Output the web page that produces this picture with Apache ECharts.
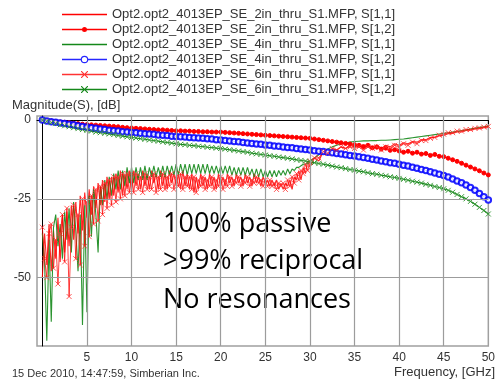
<!DOCTYPE html>
<html>
<head>
<meta charset="utf-8">
<script src="https://cdn.jsdelivr.net/npm/echarts@6/dist/echarts.min.js"></script>
<style>
html,body{margin:0;padding:0;background:#fff;}
#c{width:498px;height:386px;}
</style>
</head>
<body>
<div id="c"></div>
<script>
// Frequency grids (GHz)
// S[1,2] curves: 0.5 GHz step, 0..50
const freqS12 = Array.from({length: 101}, (_, i) => i * 0.5);
// S[1,1] curves: 0.25 GHz step up to 30 GHz, then 0.5 GHz step to 50
const freqS11 = Array.from({length: 121}, (_, i) => i * 0.25)
  .concat(Array.from({length: 40}, (_, i) => 30.5 + i * 0.5));

const seriesNames = [
  'Opt2.opt2_4013EP_SE_2in_thru_S1.MFP, S[1,1]',
  'Opt2.opt2_4013EP_SE_2in_thru_S1.MFP, S[1,2]',
  'Opt2.opt2_4013EP_SE_4in_thru_S1.MFP, S[1,1]',
  'Opt2.opt2_4013EP_SE_4in_thru_S1.MFP, S[1,2]',
  'Opt2.opt2_4013EP_SE_6in_thru_S1.MFP, S[1,1]',
  'Opt2.opt2_4013EP_SE_6in_thru_S1.MFP, S[1,2]'
];

const s11_2in = [
-50,-36,-46,-33,-48,-35,-44,-31,-45,-30,-42,-29,-40,-27,-38,-26,-36,-24,-35,-23,
-31,-22,-30,-21,-28,-20,-27,-19,-26,-18,-25,-18,-24,-17,-23,-16,-24,-17,-22,-16,-23,
-16,-21,-17,-22,-16,-21,-17,-22,-16,-20,-17,-22,-16,-21,-17,-22,-16,-20,-17,-21,
-17,-22,-16,-21,-17,-22,-17,-23,-18,-22,-17,-21,-18,-22,-17,-21,-18,-22,-17,-21,
-18,-21,-17,-20,-18,-21,-17,-20,-18,-21,-17,-20,-18,-21,-17,-20,-18,-21,-18,-20,
-19,-21,-19,-21,-19,-22,-20,-22,-20,-21,-19,-22,-18,-19,-16,-19,-15,-17,-13,-15,
-12,-13,-10,-11,-9,-9.5,-8.5,-9,-8,
-8.5,-8,-9,-8,-8.5,-7.8,-9,-8,-8.5,-7.5,
-8,-7.2,-7.5,-6.8,-7,-6.2,-6.2,-5.5,-5.5,-5,
-4.8,-4.3,-4.2,-3.8,-3.8,-3.3,-3.2,-2.8,-2.7,-2.4,
-2.2];

const s12_2in = [0,-0.2,-0.3,-0.5,-0.6,-0.7,-0.8,-1.0,-1.1,-1.3,
-1.4,-1.5,-1.6,-1.7,-1.8,-1.9,-2.0,-2.1,-2.3,-2.4,
-2.5,-2.6,-2.7,-2.8,-2.9,-3.0,-3.1,-3.1,-3.2,-3.3,
-3.4,-3.4,-3.5,-3.5,-3.6,-3.6,-3.7,-3.7,-3.8,-3.8,
-3.8,-3.9,-4.0,-4.1,-4.2,-4.3,-4.4,-4.5,-4.6,-4.7,
-4.8,-4.9,-5.0,-5.1,-5.2,-5.3,-5.4,-5.5,-5.6,-5.7,
-5.8,-6.0,-6.2,-6.4,-6.6,-6.8,-7.0,-7.2,-7.4,-7.6,
-7.8,-8.0,-8.4,-8.0,-8.8,-8.6,-9.2,-8.9,-9.6,-9.4,
-9.8,-10.2,-9.9,-10.5,-10.2,-10.8,-10.6,-11.2,-10.9,-11.5,
-11.6,-12.1,-12.6,-13.1,-13.7,-14.3,-14.9,-15.5,-16.1,-16.8,
-17.4];

const s11_4in = [
-36,-45,-70,-38,-64,-34,-30,-40,-33,-44,-29,-38,-28,-42,-26,-35,-48,-30,-65,-27,
-61,-24,-37,-22,-30,-42,-21,-27,-19,-25,-18,-24,-17,-22,-16,-22,-16,-21,-15,-20,-15,
-20,-15,-19,-15,-19,-14.5,-19,-15,-18,-14.5,-18,-15,-18,-14.5,-18,-14.5,-17.5,-14.5,-17.5,-14,
-17.5,-14,-17,-14,-17.5,-14,-17,-14,-17,-14,-17,-14,-17,-14,-17,-14.5,-17,-14.5,-17,-14.5,
-17,-14.5,-17,-14.5,-17.5,-15,-17.5,-15,-17.5,-15,-17.5,-15,-17.5,-15.5,-18,-15.5,-18,-15.5,-18,-16,
-18,-16,-18,-16,-18,-16,-17.5,-16,-17.5,-15.5,-17,-15.5,-16,-15,-15,-14.5,-14,-14,-13.5,-13,
-12,-11,-10,-9.2,-8.5,-8,-7.5,-7.2,-7,
-6.8,-6.7,-6.6,-6.6,-6.5,-6.5,-6.4,-6.4,-6.3,-6.2,
-6.1,-6,-5.8,-5.6,-5.4,-5.2,-5,-4.8,-4.6,-4.4,
-4.2,-4,-3.8,-3.6,-3.3,-3.1,-2.8,-2.6,-2.3,-2.1,
-1.8];

const s12_4in = [0,-0.3,-0.5,-0.7,-0.9,-1.1,-1.3,-1.5,-1.8,-2.0,
-2.2,-2.4,-2.6,-2.8,-3.0,-3.2,-3.4,-3.5,-3.7,-3.8,
-3.9,-4.0,-4.2,-4.3,-4.4,-4.5,-4.7,-4.8,-4.9,-5.1,
-5.2,-5.3,-5.4,-5.5,-5.6,-5.7,-5.8,-5.9,-6.0,-6.2,
-6.3,-6.5,-6.6,-6.8,-6.9,-7.1,-7.3,-7.4,-7.6,-7.7,
-7.9,-8.0,-8.2,-8.3,-8.5,-8.7,-8.8,-9.0,-9.2,-9.3,
-9.5,-9.7,-9.9,-10.0,-10.2,-10.4,-10.6,-10.8,-11.0,-11.2,
-11.4,-11.6,-11.9,-12.1,-12.4,-12.7,-13.0,-13.2,-13.5,-13.7,
-14.0,-14.3,-14.6,-15.0,-15.3,-15.7,-16.0,-16.4,-16.8,-17.2,
-17.6,-18.1,-18.7,-19.3,-19.9,-20.6,-21.4,-22.3,-23.3,-24.3,
-25.4];

const s11_6in = [
-34,-44,-50,-36,-33,-47,-38,-52,-36,-30,-45,-28,-56,-34,-27,-44,-30,-46,-25,-40,
-26,-37,-24,-33,-22,-32,-21,-30,-20,-28,-19,-27,-18,-26,-18,-25,-17,-24,-17,-23,-17,
-23,-17,-22,-18,-23,-17,-22,-18,-22,-17,-23,-18,-22,-17,-22,-18,-21,-17,-22,-18,
-21,-17,-22,-18,-21,-18,-22,-18,-23,-19,-21,-18,-22,-19,-21,-18,-22,-19,-21,-18,
-22,-19,-21,-18,-21,-19,-20,-18,-21,-19,-20,-18,-21,-19,-20,-18,-20,-19,-21,-19,
-21,-19,-21,-20,-22,-20,-21,-20,-22,-19,-21,-18,-20,-17,-19,-16,-17,-14,-16,-13,
-12,-12,-10,-10.5,-9,-9.5,-8.5,-9,-8.5,
-9,-8.5,-9.5,-8.5,-9,-8.5,-9.5,-8.5,-9,-8,
-8.5,-7.5,-8,-7,-7.5,-6.5,-6.5,-5.8,-5.5,-4.8,
-4.5,-4,-4,-3.5,-3.5,-3,-3,-2.6,-2.5,-2.2,
-2];

const s12_6in = [0,-0.4,-0.8,-1.1,-1.5,-1.8,-2.1,-2.4,-2.7,-3.0,
-3.3,-3.5,-3.8,-4.0,-4.2,-4.4,-4.6,-4.9,-5.1,-5.3,
-5.5,-5.7,-5.9,-6.1,-6.3,-6.5,-6.7,-6.9,-7.1,-7.3,
-7.5,-7.7,-7.8,-8.0,-8.1,-8.3,-8.4,-8.6,-8.7,-8.9,
-9.0,-9.2,-9.4,-9.6,-9.8,-10.0,-10.2,-10.5,-10.7,-10.9,
-11.1,-11.3,-11.5,-11.7,-11.9,-12.1,-12.3,-12.6,-12.8,-13.0,
-13.2,-13.5,-13.8,-14.0,-14.3,-14.6,-14.9,-15.1,-15.4,-15.7,
-15.9,-16.2,-16.4,-16.7,-17.0,-17.2,-17.5,-17.7,-18.0,-18.2,
-18.5,-18.8,-19.1,-19.4,-19.7,-20.0,-20.4,-20.7,-21.1,-21.4,
-21.8,-22.3,-22.9,-23.6,-24.3,-25.0,-25.8,-26.7,-27.7,-28.7,
-29.8];

const xTicks = [5, 10, 15, 20, 25, 30, 35, 40, 45, 50];
const yTicks = [0, -25, -50];

const annotationLines = ['100% passive', '>99% reciprocal', 'No resonances'];

const zip = (fs, ys) => fs.map((f, i) => [f, ys[i]]);
const xSym = 'path://M0,0L10,10M10,0L0,10';
const RED = '#ff0000', GREEN = '#14881a', BLUE = '#0000ff';
const FONT = '"Liberation Sans", Arial, sans-serif';
const BIG = '27px "Open Sans", Lato, sans-serif';

// legend icons drawn in a 45x12 box (corner points keep the box size)
const BOX = 'M0,0L0.01,0Z M45,12L44.99,12Z ';
const LINE = 'M0,5.3H45V6.7H0Z ';
const iconLine = 'path://' + BOX + LINE;
const iconDot = 'path://' + BOX + LINE + 'M20,6A2.5,2.5 0 1,1 25,6A2.5,2.5 0 1,1 20,6Z';
const iconRing = 'path://' + BOX + 'M0,5.3H18.8V6.7H0Z M26.2,5.3H45V6.7H26.2Z ' +
  'M18.7,6A3.8,3.8 0 1,1 26.3,6A3.8,3.8 0 1,1 18.7,6Z M19.9,6A2.6,2.6 0 1,0 25.1,6A2.6,2.6 0 1,0 19.9,6Z';
const iconX = 'path://' + BOX + LINE +
  'M19,2.5L19.8,2.5L22.5,5.2L25.2,2.5L26,2.5L26,3.3L23.3,6L26,8.7L26,9.5L25.2,9.5L22.5,6.8L19.8,9.5L19,9.5L19,8.7L21.7,6L19,3.3Z';
const legendIcons = [iconLine, iconDot, iconLine, iconRing, iconX, iconX];

const chart = echarts.init(document.getElementById('c'), null, {renderer: 'canvas'});

const gridSeries = {
  type: 'line', data: [], silent: true, z: 1,
  markLine: {
    silent: true, symbol: 'none', animation: false,
    label: {show: false},
    lineStyle: {color: '#9c9c9c', width: 1.2, type: 'solid'},
    data: xTicks.slice(0, -1).map(v => ({xAxis: v})).concat(yTicks.slice(1).map(v => ({yAxis: v})))
  }
};

function mk(name, fs, ys, color, symbol, size, extra) {
  return Object.assign({
    name, type: 'line', data: zip(fs, ys), z: 3,
    symbol, symbolSize: size, showAllSymbol: true,
    lineStyle: {color, width: 1.1},
    itemStyle: {color, borderColor: color, borderWidth: 1},
    emphasis: {disabled: true}
  }, extra || {});
}

const option = {
  animation: false,
  backgroundColor: '#fff',
  textStyle: {fontFamily: FONT},
  legend: {
    orient: 'vertical', left: 57, top: 3,
    itemWidth: 45, itemHeight: 12, itemGap: 2,
    itemStyle: {borderWidth: 0},
    textStyle: {fontSize: 13, color: '#333', fontFamily: FONT},
    data: seriesNames.map((n, i) => ({name: n, icon: legendIcons[i]}))
  },
  grid: {left: 37, right: 8, top: 116, bottom: 40, show: true,
         borderColor: '#a0a0a0', borderWidth: 1.5, backgroundColor: 'transparent'},
  xAxis: {
    type: 'value', min: -0.6, max: 50,
    axisLine: {show: true, lineStyle: {color: '#000', width: 1}},
    axisTick: {show: true, customValues: xTicks, length: 4, lineStyle: {color: '#000'}},
    axisLabel: {customValues: xTicks, fontSize: 12, color: '#333', margin: 6, fontFamily: FONT},
    splitLine: {show: false}
  },
  yAxis: {
    type: 'value', min: -71.7, max: 1.3,
    axisLine: {show: true, lineStyle: {color: '#000', width: 1}},
    axisTick: {show: true, customValues: yTicks, length: 5, lineStyle: {color: '#000'}},
    axisLabel: {customValues: yTicks, fontSize: 12, color: '#333', margin: 6, fontFamily: FONT},
    splitLine: {show: false}
  },
  series: [
    gridSeries,
    mk(seriesNames[0], freqS11, s11_2in, RED, 'none', 0, {lineStyle: {color: RED, width: 1.1, opacity: 0.85}}),
    mk(seriesNames[1], freqS12, s12_2in, RED, 'circle', 4, {lineStyle: {color: RED, width: 1.1, opacity: 0.9}}),
    mk(seriesNames[2], freqS11, s11_4in, GREEN, 'none', 0, {lineStyle: {color: GREEN, width: 1.1, opacity: 0.9}}),
    mk(seriesNames[3], freqS12, s12_4in, BLUE, 'emptyCircle', 5.5, {itemStyle: {color: BLUE, borderColor: '#2a2aff', borderWidth: 0.9, opacity: 0.85}}),
    mk(seriesNames[4], freqS11, s11_6in, RED, xSym, 5, {lineStyle: {color: RED, width: 1, opacity: 0.75}, itemStyle: {color: RED, borderColor: '#ff3030', borderWidth: 1, opacity: 0.8}}),
    mk(seriesNames[5], freqS12, s12_6in, GREEN, xSym, 5, {itemStyle: {color: GREEN, borderColor: '#3a9a3a', borderWidth: 1}})
  ],
  graphic: [
    {type: 'text', left: 12, top: 99, style: {text: 'Magnitude(S), [dB]', font: '13px ' + FONT, fill: '#333'}},
    {type: 'text', left: 12, top: 368, style: {text: '15 Dec 2010, 14:47:59, Simberian Inc.', font: '11px ' + FONT, fill: '#333'}},
    {type: 'text', right: 3, top: 366, style: {text: 'Frequency, [GHz]', font: '13px ' + FONT, fill: '#333'}},
    {type: 'text', left: 163, top: 211, style: {text: annotationLines[0], font: BIG, fill: '#000'}},
    {type: 'text', left: 163, top: 248, style: {text: annotationLines[1], font: BIG, fill: '#000'}},
    {type: 'text', left: 163, top: 287, style: {text: annotationLines[2], font: BIG, fill: '#000'}}
  ]
};
chart.setOption(option);
</script>
</body>
</html>
